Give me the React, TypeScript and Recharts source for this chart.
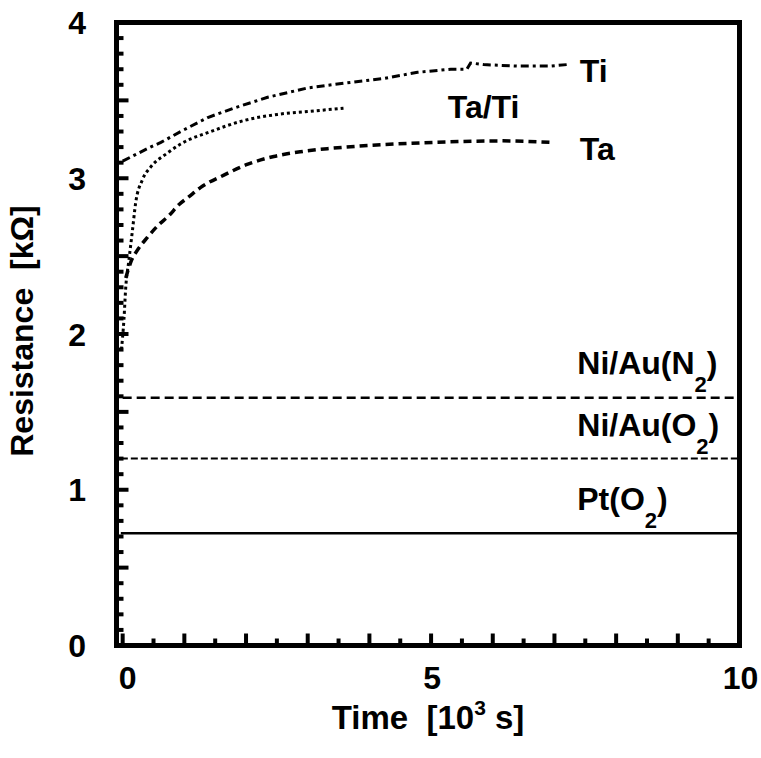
import React from 'react';
import { LineChart, Line, XAxis, YAxis, ReferenceArea, ReferenceDot, Label } from 'recharts';

// ---- data (x in 10^3 s, y in kOhm) ----
const tiX = [0.0, 0.45, 0.62, 0.94, 1.38, 1.8, 2.35, 3.0, 3.58, 4.23, 4.78, 5.32, 5.58, 5.64, 5.85, 6.4, 6.94, 7.21];
const tiY = [3.11, 3.2, 3.23, 3.3, 3.39, 3.45, 3.52, 3.58, 3.61, 3.64, 3.68, 3.7, 3.7, 3.74, 3.73, 3.72, 3.72, 3.73];

const tatiX = [-0.02, 0.02, 0.05, 0.1, 0.16, 0.21, 0.32, 0.45, 0.72, 0.94, 1.43, 1.96, 2.51, 3.05, 3.58];
const tatiY = [1.9, 2.09, 2.3, 2.47, 2.67, 2.84, 2.99, 3.07, 3.16, 3.22, 3.3, 3.37, 3.41, 3.43, 3.45];

const taX = [0.05, 0.13, 0.26, 0.4, 0.58, 0.75, 0.91, 1.07, 1.26, 1.64, 2.03, 2.45, 2.88, 3.32, 3.97, 5.04, 6.13, 6.99];
const taY = [2.36, 2.46, 2.55, 2.62, 2.7, 2.76, 2.83, 2.88, 2.94, 3.02, 3.09, 3.14, 3.17, 3.19, 3.21, 3.23, 3.24, 3.23];

const niN2X = [0.0, 10.0];
const niN2Y = [1.59, 1.59];

const niO2X = [-0.03, 10.0];
const niO2Y = [1.2, 1.2];

const ptX = [-0.03, 10.0];
const ptY = [0.72, 0.72];

// ---- axes ----
const xDomain = [-0.1, 10];
const yDomain = [0, 4];
const xTicks = Array.from({ length: 21 }, (_, i) => i * 0.5);
const yTicks = Array.from({ length: 41 }, (_, i) => Math.round(i) / 10);
const xTickLabels = [0, 5, 10];
const yTickLabels = [0, 1, 2, 3, 4];

// ---- annotations ----
const annText = ['Ti', 'Ta/Ti', 'Ta', 'Ni/Au(N', 'Ni/Au(O', 'Pt(O'];
const annSub = ['', '', '', '2', '2', '2'];
const annX = [7.41, 5.27, 7.41, 7.37, 7.37, 7.37];
const annY = [3.618, 3.39, 3.12, 1.743, 1.345, 0.87];

const FONT = '"Liberation Sans", Arial, Helvetica, sans-serif';
const FS = 32;

const zip = (xs: number[], ys: number[]) => xs.map((x, i) => ({ x, y: ys[i] }));

const isMajorX = (v: number) => Math.abs(v - Math.round(v)) < 1e-6;
const isMajorY = (v: number) => Math.abs(v * 2 - Math.round(v * 2)) < 1e-6;
const hasLabel = (arr: number[], v: number) => arr.some((a) => Math.abs(a - v) < 1e-6);

const BottomTick = (props: any) => {
  const { x, y, payload } = props;
  const v = payload.value;
  const len = isMajorX(v) ? 12 : 7;
  return (
    <g>
      <line x1={x} y1={y} x2={x} y2={y - len} stroke="#000" strokeWidth={4} />
      {hasLabel(xTickLabels, v) && (
        <text x={x + (v === 0 ? 5 : 1)} y={y + 43} textAnchor="middle" fontFamily={FONT} fontWeight="bold" fontSize={FS} fill="#000">
          {v}
        </text>
      )}
    </g>
  );
};

const TopTick = (props: any) => {
  const { x, y, payload } = props;
  const len = isMajorX(payload.value) ? 12 : 7;
  return <line x1={x} y1={y} x2={x} y2={y + len} stroke="#000" strokeWidth={4} />;
};

const LeftTick = (props: any) => {
  const { x, y, payload } = props;
  const v = payload.value;
  const len = isMajorY(v) ? 12 : 7;
  return (
    <g>
      <line x1={x} y1={y} x2={x + len} y2={y} stroke="#000" strokeWidth={4} />
      {hasLabel(yTickLabels, v) && (
        <text x={86} y={y + 11.5} textAnchor="end" fontFamily={FONT} fontWeight="bold" fontSize={FS} fill="#000">
          {Math.round(v)}
        </text>
      )}
    </g>
  );
};

const RightTick = (props: any) => {
  const { x, y, payload } = props;
  const len = isMajorY(payload.value) ? 12 : 7;
  return <line x1={x} y1={y} x2={x - len} y2={y} stroke="#000" strokeWidth={4} />;
};

const XTitle = (props: any) => {
  const vb = props.viewBox;
  const cx = vb.x + vb.width / 2;
  const y = vb.y + 83;
  return (
    <text x={cx} y={y} textAnchor="middle" fontFamily={FONT} fontWeight="bold" fontSize={33} fill="#000" style={{ whiteSpace: 'pre' }}>
      {'Time  [10'}
      <tspan dy={-14} fontSize={21}>3</tspan>
      <tspan dy={14}>{' s]'}</tspan>
    </text>
  );
};

const YTitle = (props: any) => {
  const vb = props.viewBox;
  const cx = 33;
  const cy = vb.y + vb.height / 2 - 3;
  return (
    <text x={cx} y={cy} transform={`rotate(-90, ${cx}, ${cy})`} textAnchor="middle" fontFamily={FONT} fontWeight="bold" fontSize={FS} fill="#000" style={{ whiteSpace: 'pre' }}>
      {'Resistance  [kΩ]'}
    </text>
  );
};

const makeAnn = (i: number) => (props: any) => {
  const vb = props.viewBox;
  const sub = annSub[i];
  return (
    <text x={vb.x} y={vb.y} fontFamily={FONT} fontWeight="bold" fontSize={FS} fill="#000">
      {annText[i]}
      {sub && <tspan dy={18} fontSize={22}>{sub}</tspan>}
      {sub && <tspan dy={-18}>)</tspan>}
    </text>
  );
};

export default function App() {
  return (
    <div style={{ position: 'absolute', left: 0, top: 0, width: 761, height: 758, background: '#fff' }}>
      <LineChart width={761} height={758} margin={{ top: 22.5, right: 21.5, bottom: 0, left: 0 }}>
        <XAxis
          xAxisId="b"
          type="number"
          dataKey="x"
          domain={xDomain}
          ticks={xTicks}
          interval={0}
          allowDataOverflow
          axisLine={false}
          tickLine={false}
          tickSize={0}
          tickMargin={0}
          tick={<BottomTick />}
          height={112.5}
          orientation="bottom"
        >
          <Label content={<XTitle />} />
        </XAxis>
        <XAxis
          xAxisId="t"
          type="number"
          dataKey="x"
          domain={xDomain}
          ticks={xTicks}
          interval={0}
          allowDataOverflow
          axisLine={false}
          tickLine={false}
          tickSize={0}
          tickMargin={0}
          tick={<TopTick />}
          height={0}
          orientation="top"
        />
        <YAxis
          yAxisId="l"
          type="number"
          domain={yDomain}
          ticks={yTicks}
          interval={0}
          allowDataOverflow
          axisLine={false}
          tickLine={false}
          tickSize={0}
          tickMargin={0}
          tick={<LeftTick />}
          width={116.5}
          orientation="left"
        >
          <Label content={<YTitle />} />
        </YAxis>
        <YAxis
          yAxisId="r"
          type="number"
          domain={yDomain}
          ticks={yTicks}
          interval={0}
          allowDataOverflow
          axisLine={false}
          tickLine={false}
          tickSize={0}
          tickMargin={0}
          tick={<RightTick />}
          width={0}
          orientation="right"
        />
        <ReferenceArea xAxisId="b" yAxisId="l" x1={xDomain[0]} x2={xDomain[1]} y1={yDomain[0]} y2={yDomain[1]} fill="none" fillOpacity={0} stroke="#000" strokeWidth={5} />

        <Line xAxisId="b" yAxisId="l" data={zip(ptX, ptY)} dataKey="y" stroke="#000" strokeWidth={2.5} dot={false} activeDot={false} isAnimationActive={false} type="linear" />
        <Line xAxisId="b" yAxisId="l" data={zip(niO2X, niO2Y)} dataKey="y" stroke="#000" strokeWidth={2} strokeDasharray="7 3" dot={false} activeDot={false} isAnimationActive={false} type="linear" />
        <Line xAxisId="b" yAxisId="l" data={zip(niN2X, niN2Y)} dataKey="y" stroke="#000" strokeWidth={2.5} strokeDasharray="9 5" dot={false} activeDot={false} isAnimationActive={false} type="linear" />
        <Line xAxisId="b" yAxisId="l" data={zip(taX, taY)} dataKey="y" stroke="#000" strokeWidth={3.5} strokeDasharray="8 5" dot={false} activeDot={false} isAnimationActive={false} type="monotone" />
        <Line xAxisId="b" yAxisId="l" data={zip(tatiX, tatiY)} dataKey="y" stroke="#000" strokeWidth={3} strokeDasharray="3 3" dot={false} activeDot={false} isAnimationActive={false} type="monotone" />
        <Line xAxisId="b" yAxisId="l" data={zip(tiX, tiY)} dataKey="y" stroke="#000" strokeWidth={3} strokeDasharray="8 4 3 4" dot={false} activeDot={false} isAnimationActive={false} type="linear" />

        {annText.map((t, i) => (
          <ReferenceDot key={t} xAxisId="b" yAxisId="l" x={annX[i]} y={annY[i]} r={0} fill="none" stroke="none" ifOverflow="visible">
            <Label content={makeAnn(i)} />
          </ReferenceDot>
        ))}
      </LineChart>
    </div>
  );
}
